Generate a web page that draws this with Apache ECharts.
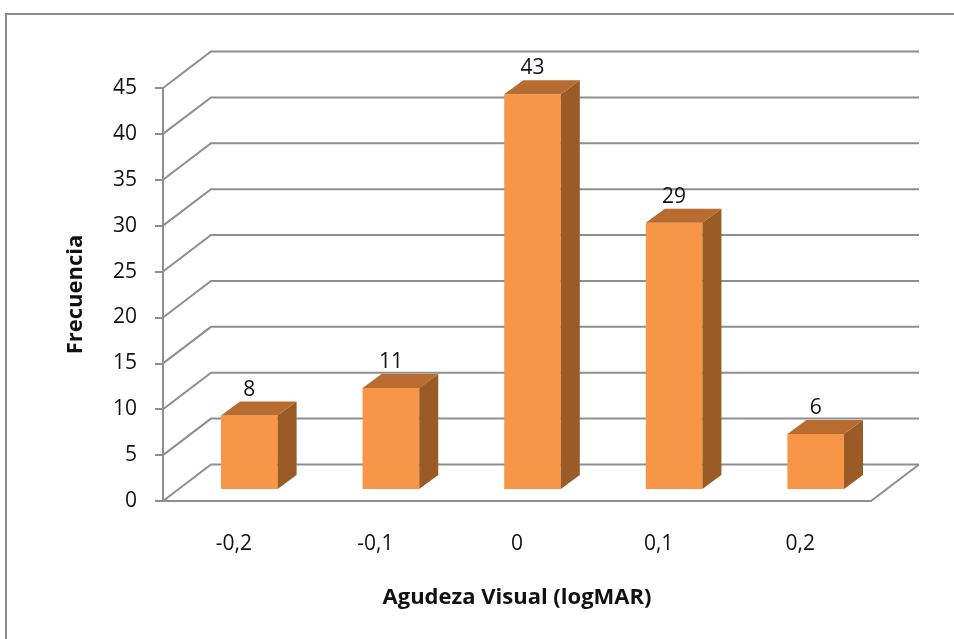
<!DOCTYPE html>
<html>
<head>
<meta charset="utf-8">
<script src="https://cdn.jsdelivr.net/npm/echarts@6/dist/echarts.min.js"></script>
<style>
  html, body { margin: 0; padding: 0; background: #fff; }
  #chart { width: 954px; height: 639px; }
</style>
</head>
<body>
<div id="chart"></div>
<script>
// Visual acuity distribution (logMAR)
const categories = ['-0,2', '-0,1', '0', '0,1', '0,2'];
const frequencies = [8, 11, 43, 29, 6];
const gridValues = [0, 5, 10, 15, 20, 25, 30, 35, 40, 45];

// Oblique projection of the chart depth
const WALL_DX = 48, WALL_DY = -36.5;   // front axis -> back wall
const BAR_FX = 15.5, BAR_FY = -12;     // front axis -> front face of bars
const BAR_DX = 19, BAR_DY = -14;       // bar thickness in depth

const LINE = '#8e8e8e';
const FONT = '"Open Sans"';
const TEXT = '#111';
const FRONT = '#f79646', TOP = '#b96c30', SIDE = '#9b5b27';

const chart = echarts.init(document.getElementById('chart'));

function renderWall(params, api) {
  const cs = params.coordSys;
  const y = api.coord([0, api.value(0)])[1];
  const children = [{
    type: 'polyline',
    shape: { points: [[cs.x, y], [cs.x + WALL_DX, y + WALL_DY], [cs.x + cs.width + WALL_DX, y + WALL_DY]] },
    style: { stroke: LINE, lineWidth: 2, fill: null }
  }];
  if (api.value(0) === 0) {
    children.push({
      type: 'line',
      shape: { x1: cs.x + cs.width, y1: y, x2: cs.x + cs.width + WALL_DX, y2: y + WALL_DY },
      style: { stroke: LINE, lineWidth: 2 }
    });
  }
  return { type: 'group', children: children };
}

function renderBar(params, api) {
  const idx = api.value(0);
  const v = api.value(1);
  const p0 = api.coord([idx, 0]);
  const p1 = api.coord([idx, v]);
  const bw = api.size([1, 0])[0] * 0.4;
  const cx = p0[0] + BAR_FX;
  const xl = cx - bw / 2, xr = cx + bw / 2;
  const yb = p0[1] + BAR_FY, yt = p1[1] + BAR_FY;
  return {
    type: 'group',
    children: [
      { type: 'rect', shape: { x: xl, y: yt, width: bw, height: yb - yt }, style: { fill: FRONT } },
      { type: 'polygon', shape: { points: [[xl, yt], [xr, yt], [xr + BAR_DX, yt + BAR_DY], [xl + BAR_DX, yt + BAR_DY]] }, style: { fill: TOP } },
      { type: 'polygon', shape: { points: [[xr, yt], [xr + BAR_DX, yt + BAR_DY], [xr + BAR_DX, yb + BAR_DY], [xr, yb]] }, style: { fill: SIDE } },
      { type: 'text', x: cx, y: yt + BAR_DY - 12,
        style: { text: String(v), fill: TEXT, font: '21px ' + FONT, align: 'center', verticalAlign: 'middle' } }
    ]
  };
}

chart.setOption({
  animation: false,
  backgroundColor: '#fff',
  graphic: [{
    type: 'rect', silent: true, z: -10,
    shape: { x: 6, y: 14, width: 1000, height: 700 },
    style: { fill: null, stroke: '#8a8a8a', lineWidth: 2 }
  }],
  grid: { left: 163, right: 83, top: 88, bottom: 138, containLabel: false },
  xAxis: {
    type: 'category',
    data: categories,
    name: 'Agudeza Visual (logMAR)',
    nameLocation: 'middle',
    nameGap: 86,
    nameTextStyle: { fontFamily: FONT, fontSize: 22, fontWeight: 'bold', color: TEXT },
    axisLine: { lineStyle: { color: LINE, width: 2 } },
    axisTick: { length: 9, lineStyle: { color: LINE, width: 2 } },
    axisLabel: { margin: 33, fontFamily: FONT, fontSize: 21, color: TEXT },
    splitLine: { show: false }
  },
  yAxis: {
    type: 'value',
    min: 0, max: 45, interval: 5,
    name: 'Frecuencia',
    nameLocation: 'middle',
    nameRotate: 90,
    nameGap: 76,
    nameTextStyle: { fontFamily: FONT, fontSize: 22, fontWeight: 'bold', color: TEXT },
    axisLine: { show: true, lineStyle: { color: LINE, width: 2 } },
    axisTick: { show: true, length: 8, lineStyle: { color: LINE, width: 2 } },
    axisLabel: { margin: 26, fontFamily: FONT, fontSize: 21, color: TEXT },
    splitLine: { show: false }
  },
  series: [
    {
      type: 'custom', z: 1, silent: true,
      renderItem: renderWall,
      data: gridValues.map(v => [v])
    },
    {
      type: 'custom', z: 3, silent: true,
      renderItem: renderBar,
      encode: { x: 0, y: 1 },
      data: frequencies.map((v, i) => [i, v])
    }
  ]
});
</script>
</body>
</html>
